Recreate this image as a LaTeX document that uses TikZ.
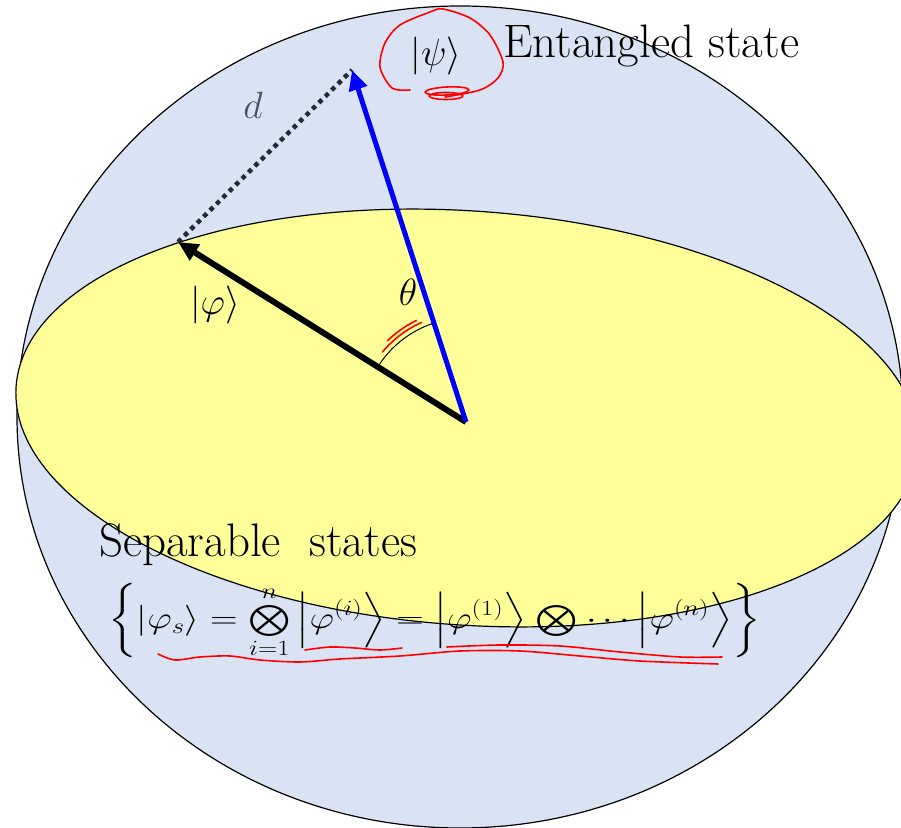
\RequirePackage{fix-cm}
\documentclass[tikz,border=0pt]{standalone}
\usepackage{amsmath, amssymb}
\usepackage{graphicx}
\usepackage{xcolor}
\usetikzlibrary{arrows.meta, positioning, calc}

\definecolor{spherefill}{RGB}{218,227,243}
\definecolor{discfill}{RGB}{255,255,153}
\definecolor{dlabel}{RGB}{68,84,106}
\definecolor{dotline}{RGB}{34,42,53}

\begin{document}
\begin{tikzpicture}[
    x=1pt, y=1pt,
    vec/.style={line width=5pt, -{Triangle[length=20pt, width=18pt]}},
    mlabel/.style={font=\fontsize{38}{44}\selectfont, inner sep=0pt},
    tlabel/.style={font=\fontsize{47}{54}\selectfont, inner sep=0pt},
    scribble/.style={red, line width=1.6pt, line cap=round, line join=round}
]
\useasboundingbox (0,0) rectangle (901,827);

% sphere and the disc of separable states
\filldraw[fill=spherefill, line width=1.2pt] (460,410) ellipse [x radius=443, y radius=411];
\filldraw[fill=discfill, line width=1.2pt, rotate around={-4:(467,409)}] (467,409) ellipse [x radius=452, y radius=207];

\coordinate (O) at (466,405);
\coordinate (phi) at (178,585);
\coordinate (psi) at (352,757);

\draw[dotline, line width=4.5pt, dash pattern=on 4.5pt off 4.5pt] (phi) -- (psi);
\draw[vec, line width=6pt, black] (O) -- (phi);
\draw[vec, blue] (O) -- (psi);

% angle between the two states
\draw[line width=1pt] ($(O)+(147:104)$) arc[start angle=147, end angle=109, radius=104];

\node[mlabel] (theta) at (408,535) {$\theta$};
\node[mlabel] (philabel) at (215,522) {$|\varphi\rangle$};
\node[mlabel, text=dlabel] (dist) at (253,722) {$d$};
\node[mlabel] (psilabel) at (436,771) {$|\psi\rangle$};

\node[tlabel, anchor=base west] (ent) at (503,769) {Entangled state};
\node[tlabel, anchor=base west] (sep) at (99,270) {Separable\ \ states};
\node[anchor=west, inner sep=0pt, font=\fontsize{31}{37}\selectfont] (sepset) at (108,206)
    {\scalebox{1.23}[1]{$\displaystyle \left\{ |\varphi_s\rangle = \mathop{\textstyle\bigotimes}\limits_{i=1}^{n} \left|\varphi^{(i)}\right\rangle = \left|\varphi^{(1)}\right\rangle \mathbin{\textstyle\bigotimes} \cdots \left|\varphi^{(n)}\right\rangle \right\}$}};

% red hand marks
\draw[scribble] plot[smooth] coordinates {(410,737) (392,739) (380,760) (385,784) (400,802) (430,815) (443,818) (470,809) (490,792) (503,765) (498,749) (480,737) (445,730)};
\draw[scribble, rotate around={3:(447,736)}] (447,736) ellipse [x radius=22, y radius=4];
\draw[scribble] (446,731) ellipse [x radius=17, y radius=3.5];
\draw[scribble] ($(O)+(140:109)$) arc[start angle=140, end angle=114, radius=109];
\draw[scribble] ($(O)+(134:113)$) arc[start angle=134, end angle=116, radius=113];
\draw[scribble] plot[smooth] coordinates {(305,177) (330,180) (355,179) (380,177) (402,179)};
\draw[scribble] plot[smooth] coordinates {(447,180) (500,182) (560,181) (620,175) (680,170) (722,170)};
\draw[scribble] plot[smooth] coordinates {(158,173) (175,167) (200,170) (230,171) (260,167) (300,165) (340,168) (400,171) (460,176) (520,176) (580,171) (640,166) (718,163)};

\end{tikzpicture}
\end{document}
